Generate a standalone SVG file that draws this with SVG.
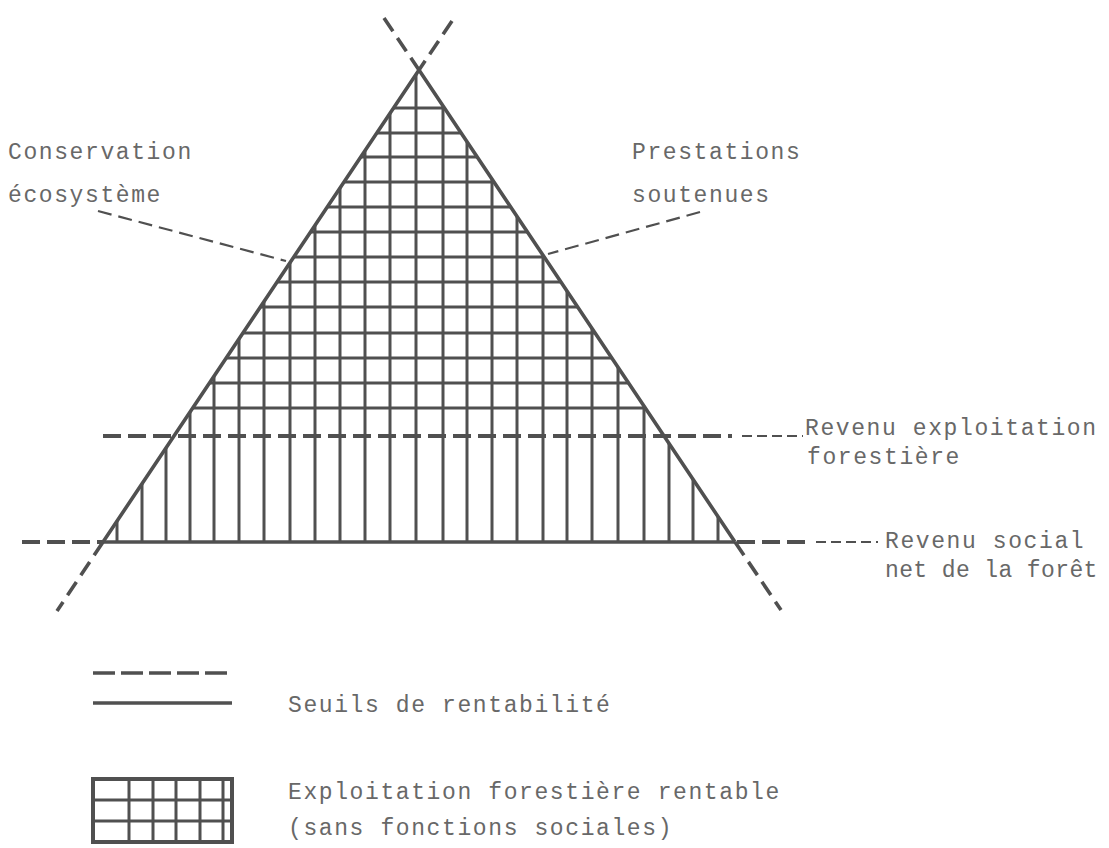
<svg xmlns="http://www.w3.org/2000/svg" width="1109" height="848" viewBox="0 0 1109 848">
<defs>
<style>
.ln{stroke:#505050;fill:none;stroke-linecap:butt}
.edge{stroke-width:3.6}
.grid{stroke-width:3}
.dash{stroke-width:3.6;stroke-dasharray:16 8}
.hd{stroke-width:4;stroke-dasharray:18 7}
.thin{stroke-width:2;stroke-dasharray:10 5}
.lead{stroke-width:2.2;stroke-dasharray:14 7}
text{font-family:"Liberation Mono","Courier New",monospace;font-size:23px;letter-spacing:1.6px;fill:#686868}
</style>
<clipPath id="tri">
<polygon points="419,70 103,542 735,542"/>
</clipPath>
</defs>
<rect width="1109" height="848" fill="#ffffff"/>

<g id="grid" class="ln grid" clip-path="url(#tri)">
<path d="M117 60V542M142 60V542M166 60V542M190 60V542M214 60V542M239 60V542M264 60V542M290 60V542M315 60V542M340 60V542M365 60V542M390 60V542M416 60V542M443 60V542M467 60V542M492 60V542M517 60V542M543 60V542M567 60V542M592 60V542M618 60V542M644 60V542M669 60V542M693 60V542M718 60V542"/>
<path d="M90 108H750M90 133H750M90 157H750M90 182H750M90 207H750M90 232H750M90 257H750M90 282H750M90 307H750M90 333H750M90 358H750M90 383H750M90 408H750"/>
</g>

<g id="triangle" class="ln edge">
<polyline points="103,542 419,70 735,542"/>
<line x1="103" y1="542" x2="735" y2="542"/>
</g>

<g id="connectors" class="ln">
<line class="dash" x1="384" y1="18" x2="419" y2="70"/>
<line class="dash" x1="452" y1="21" x2="419" y2="70"/>
<line class="dash" x1="103" y1="542" x2="57" y2="611"/>
<line class="dash" x1="735" y1="542" x2="781" y2="610"/>
<line class="hd" x1="103" y1="436" x2="732" y2="436"/>
<line class="thin" x1="742" y1="436" x2="803" y2="436"/>
<line class="hd" x1="22" y1="542" x2="103" y2="542"/>
<line class="hd" x1="737" y1="542" x2="812" y2="542"/>
<line class="thin" x1="816" y1="542" x2="878" y2="542"/>
<line class="lead" x1="98" y1="211" x2="286" y2="261"/>
<line class="lead" x1="700" y1="212" x2="548" y2="254"/>
</g>

<g id="labels">
<text x="8" y="159">Conservation</text>
<text x="8" y="202">écosystème</text>
<text x="632" y="159">Prestations</text>
<text x="632" y="202">soutenues</text>
<text x="805" y="435">Revenu exploitation</text>
<text x="807" y="464">forestière</text>
<text x="885" y="548">Revenu social</text>
<text x="885" y="577" textLength="214" lengthAdjust="spacing">net de la forêt</text>
</g>

<g id="legend-seuils">
<line class="ln" x1="93" y1="673" x2="231" y2="673" style="stroke-width:3.5;stroke-dasharray:22 6"/>
<line class="ln" x1="93" y1="703" x2="232" y2="703" style="stroke-width:3.5"/>
<text x="288" y="712">Seuils de rentabilité</text>
</g>

<g id="legend-exploitation">
<rect class="ln" x="93" y="779" width="139" height="63" style="stroke-width:4"/>
<path class="ln" d="M129 779V842M153 779V842M176 779V842M200 779V842M223 779V842M93 800H232M93 821H232" style="stroke-width:3"/>
<text x="288" y="799">Exploitation forestière rentable</text>
<text x="288" y="835">(sans fonctions sociales)</text>
</g>
</svg>
